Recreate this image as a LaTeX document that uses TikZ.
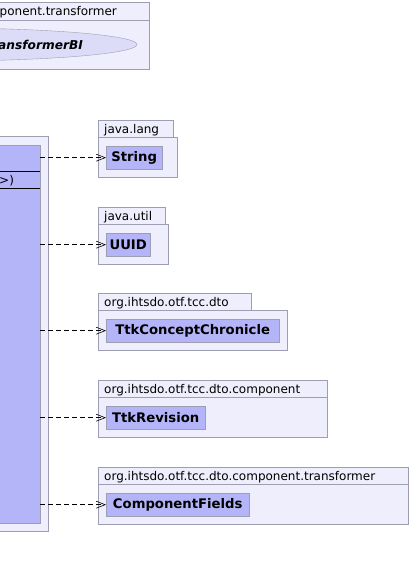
\documentclass[tikz,border=0pt]{standalone}
\usepackage{fontspec}
\setmainfont{DejaVu Sans}
\usetikzlibrary{positioning,arrows.meta,shapes.geometric}

\definecolor{pkgfill}{HTML}{EEEEFC}
\definecolor{pkgline}{HTML}{9E9EB2}
\definecolor{clsfill}{HTML}{B4B4F8}
\definecolor{ifcfill}{HTML}{DCDCF8}

\tikzset{
  pkgbox/.style={draw=pkgline, fill=pkgfill},
  pkgtitle/.style={font=\fontsize{12}{14}\selectfont, anchor=base west, inner sep=0pt},
  clsbox/.style={draw=pkgline, fill=clsfill, anchor=north west, inner sep=0pt,
    minimum height=23pt, font=\fontsize{13.2}{15}\selectfont\bfseries},
  dep/.style={dashed, dash pattern=on 5pt off 3pt, line width=0.7pt,
    -{Straight Barb[length=9pt,width=7pt,line width=0.6pt]}}
}

\begin{document}
\begin{tikzpicture}[x=1pt,y=-1pt]
      \clip (0,0) rectangle (411,570);
      \fill[white] (0,0) rectangle (411,570);
      % package at the top, cut by the edge
      \draw[pkgbox] (-200,2) rectangle (149,69);
      \draw[pkgline] (-200,20) -- (149,20);
      \node[pkgtitle, anchor=base west] (top-t) at (-0.5,15) {ponent.transformer};
      \node[draw=pkgline, fill=ifcfill, ellipse, minimum width=394pt, minimum height=33pt,
            inner sep=0pt] (bi) at (-60,44.5) {};
      \node[anchor=base west, inner sep=0pt,
            font=\fontsize{12.2}{14}\selectfont\bfseries\itshape] (bi-t) at (-2,49) {ansformerBI};
      % owner class
      \draw[pkgbox] (-200,136) rectangle (48,531);
      \node[draw=pkgline, fill=clsfill, anchor=north west, minimum width=240pt,
            minimum height=378pt, inner sep=0pt] (owner) at (-200,145) {};
      \draw (owner.west |- 0,171) -- (owner.east |- 0,171);
      \draw (owner.west |- 0,188) -- (owner.east |- 0,188);
      \node[pkgtitle] (op) at (-1,184) {>)};
      % used classes
      \foreach \n/\ttl/\cls/\y/\tw/\bw/\cw in {
        str/java.lang/String/120/75/79/56,
        uid/java.util/UUID/207/67/70/44,
        tcc/org.ihtsdo.otf.tcc.dto/TtkConceptChronicle/293/153/189/173,
        rev/org.ihtsdo.otf.tcc.dto.component/TtkRevision/380/229/229/99,
        cf/org.ihtsdo.otf.tcc.dto.component.transformer/ComponentFields/467/310/310/143} {
        \draw[pkgbox] (98,\y+17) rectangle ++(\bw,40);
        \draw[pkgbox] (98,\y) rectangle ++(\tw,17);
        \node[pkgtitle] (\n-t) at (104,\y+13) {\ttl};
        \node[clsbox, minimum width=\cw pt] (\n) at (106,\y+26) {\cls};
        \draw[dep] (owner.east |- \n.west) -- (\n.west);
      }
    \end{tikzpicture}
\end{document}
